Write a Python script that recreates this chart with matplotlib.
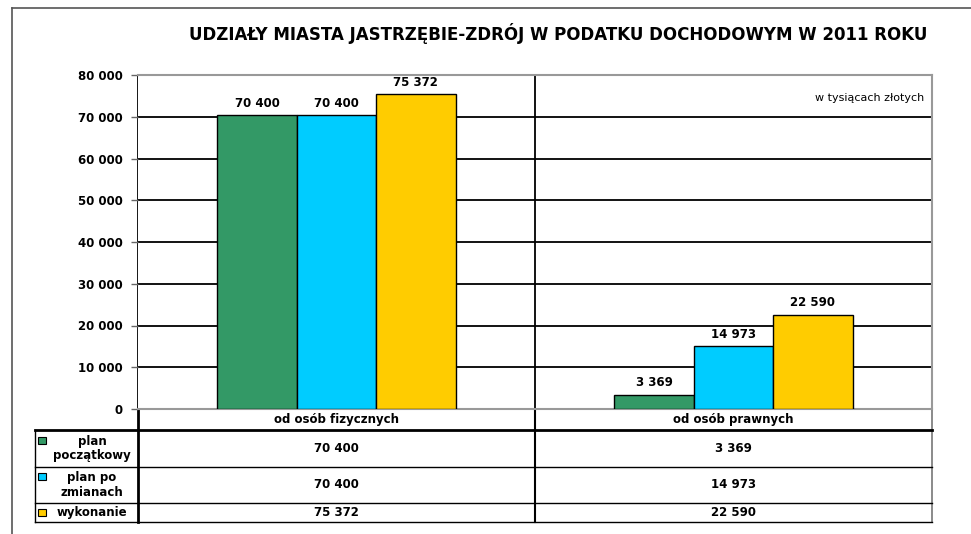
import matplotlib
matplotlib.use('Agg')
import matplotlib.pyplot as plt
from matplotlib.patches import Rectangle

# data
categories = ['od osób fizycznych', 'od osób prawnych']
series_names = ['plan\npoczątkowy', 'plan po\nzmianach', 'wykonanie']
plan_poczatkowy = [70400, 3369]
plan_po_zmianach = [70400, 14973]
wykonanie = [75372, 22590]
yticks = [0, 10000, 20000, 30000, 40000, 50000, 60000, 70000, 80000]
title = 'UDZIAŁY MIASTA JASTRZĘBIE-ZDRÓJ W PODATKU DOCHODOWYM W 2011 ROKU'
unit = 'w tysiącach złotych'

colors = ['#339966', '#00CCFF', '#FFCC00']
series = [plan_poczatkowy, plan_po_zmianach, wykonanie]


def fmt(v):
    return '{:,}'.format(v).replace(',', ' ')


plt.rcParams['font.family'] = ['DejaVu Sans']
W, H = 971, 534
fig = plt.figure(figsize=(W / 100, H / 100), dpi=100)

# background axes in pixel coordinates
bg = fig.add_axes([0, 0, 1, 1])
bg.set_xlim(0, W)
bg.set_ylim(H, 0)
bg.axis('off')

# outer frame
bg.plot([12, 12], [534, 8], color='#555555', lw=1.2)
bg.plot([12, 971], [8, 8], color='#555555', lw=1.2)

bg.text(558, 33, title, ha='center', va='center', fontsize=12,
        fontweight='bold')

# chart axes
x0, x1, y_top, y_bot = 138, 932, 75, 409
ax = fig.add_axes([x0 / W, 1 - y_bot / H, (x1 - x0) / W, (y_bot - y_top) / H])
ax.set_xlim(-0.5, 1.5)
ax.set_ylim(0, 80000)
ax.set_yticks(yticks)
ax.set_yticklabels([fmt(t) for t in yticks], fontsize=8.5, fontweight='bold')
ax.tick_params(axis='y', length=5, width=1, color='#666666', pad=6)
ax.set_xticks([])
ax.grid(axis='y', color='black', lw=1.3)
ax.set_axisbelow(True)
for s in ['top', 'right', 'bottom']:
    ax.spines[s].set_color('#999999')
    ax.spines[s].set_linewidth(1.5)
ax.spines['left'].set_visible(False)
ax.axvline(0.5, color='black', lw=1.3)

bw = 0.2
for i, vals in enumerate(series):
    xs = [k + (i - 1) * bw for k in range(len(categories))]
    bars = ax.bar(xs, vals, width=bw, color=colors[i], edgecolor='black',
                  linewidth=1, zorder=3)
    for b, v in zip(bars, vals):
        ax.annotate(fmt(v), (b.get_x() + bw / 2, v), xytext=(0, 4),
                    textcoords='offset points', ha='center', va='bottom',
                    fontsize=8.5, fontweight='bold')

ax.text(0.99, 0.93, unit, transform=ax.transAxes, ha='right', va='center',
        fontsize=8)

# data table below the chart
rows = [409, 430, 467, 503, 522]
left = 35
cx = [(x0 + 535) / 2, (535 + x1) / 2]
bg.plot([x0, x0], [y_top, rows[-1]], color='black', lw=2)
bg.plot([535, 535], [y_bot, rows[-1]], color='black', lw=1.5)
bg.plot([x1, x1], [y_bot, rows[-1]], color='#777777', lw=1.2)
bg.plot([x0, x1], [rows[0], rows[0]], color='#999999', lw=1.2)
bg.plot([left, x1], [rows[1], rows[1]], color='black', lw=2)
for y in rows[2:]:
    bg.plot([left, x1], [y, y], color='black', lw=1)
bg.plot([left, left], [rows[1], rows[-1]], color='black', lw=1)

for k, c in enumerate(categories):
    bg.text(cx[k], (rows[0] + rows[1]) / 2, c, ha='center', va='center',
            fontsize=8.5, fontweight='bold')

for i, vals in enumerate(series):
    yc = (rows[i + 1] + rows[i + 2]) / 2
    bg.add_patch(Rectangle((38, yc - 12 if i < 2 else yc - 4), 8, 7,
                           facecolor=colors[i], edgecolor='black', lw=0.8))
    bg.text(92, yc, series_names[i], ha='center', va='center', fontsize=8.5,
            fontweight='bold', linespacing=1.2)
    for k, v in enumerate(vals):
        bg.text(cx[k], yc, fmt(v), ha='center', va='center', fontsize=8.5,
                fontweight='bold')

fig.savefig('out.png', dpi=100)
